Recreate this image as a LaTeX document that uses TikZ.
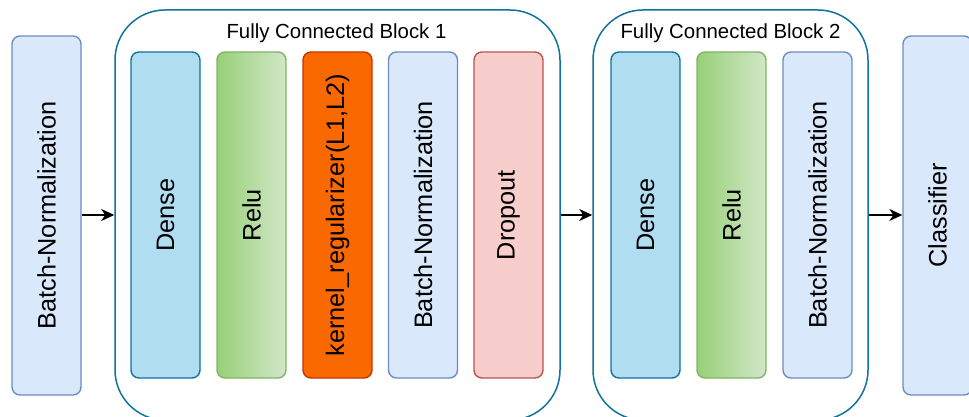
\documentclass[tikz,border=0pt]{standalone}
\usepackage{fontspec}
\setmainfont{Liberation Sans}
\usetikzlibrary{arrows.meta}
\definecolor{blkline}{HTML}{10739E}
\definecolor{densefill}{HTML}{B1DDF0}
\definecolor{denseline}{HTML}{10739E}
\definecolor{relufill}{HTML}{97D077}
\definecolor{relufill2}{HTML}{D2E7C9}
\definecolor{reluline}{HTML}{82B366}
\definecolor{kernfill}{HTML}{FA6800}
\definecolor{kernline}{HTML}{C73500}
\definecolor{bnfill}{HTML}{DAE8FC}
\definecolor{bnline}{HTML}{6C8EBF}
\definecolor{dropfill}{HTML}{F8CECC}
\definecolor{dropline}{HTML}{B85450}
\tikzset{
  layerbox/.style={draw, line width=1.4pt, rounded corners=8pt, minimum width=69pt, minimum height=326pt, inner sep=0pt, font=\fontsize{25.3}{30}\selectfont, text=black},
  outerbox/.style={layerbox, minimum height=359pt},
  blockbox/.style={draw=blkline, line width=1.5pt, rounded corners=50pt, fill=white, inner sep=0pt},
  blocktitle/.style={font=\fontsize{20.4}{24}\selectfont, text=black, inner sep=0pt},
  dense/.style={fill=densefill, draw=denseline},
  relu/.style={left color=relufill, right color=relufill2, draw=reluline},
  kern/.style={fill=kernfill, draw=kernline},
  bn/.style={fill=bnfill, draw=bnline},
  drop/.style={fill=dropfill, draw=dropline},
  flow/.style={line width=1.4pt, -{Stealth[length=13pt,width=12pt,inset=4pt]}}
}
\begin{document}
\begin{tikzpicture}[x=1pt,y=-1pt]
\useasboundingbox (0,0) rectangle (969,417);
\clip (0,0) rectangle (969,417);
% outer blocks
\node[blockbox, minimum width=445pt, minimum height=410pt] (blk1) at (337.5,215) {};
\node[blockbox, minimum width=275pt, minimum height=410pt] (blk2) at (730.5,215) {};
\node[blocktitle] (t1) at (336.5,33) {Fully Connected Block 1};
\node[blocktitle] (t2) at (730.5,33) {Fully Connected Block 2};
% standalone boxes
\node[outerbox, bn] (bn0) at (46.5,215.5) {\rotatebox{90}{Batch-Normalization}};
\node[outerbox, bn] (cls) at (937.5,215.5) {\rotatebox{90}{Classifier}};
% block 1
\node[layerbox, dense] (d1) at (165.5,215) {\rotatebox{90}{Dense}};
\node[layerbox, relu] (r1) at (251.5,215) {\rotatebox{90}{Relu}};
\node[layerbox, kern] (k1) at (337.5,215) {\rotatebox{90}{kernel\_regularizer(L1,L2)}};
\node[layerbox, bn] (b1) at (423,215) {\rotatebox{90}{Batch-Normalization}};
\node[layerbox, drop] (o1) at (508.5,215) {\rotatebox{90}{Dropout}};
% block 2
\node[layerbox, dense] (d2) at (645.5,215) {\rotatebox{90}{Dense}};
\node[layerbox, relu] (r2) at (731.5,215) {\rotatebox{90}{Relu}};
\node[layerbox, bn] (b2) at (817.5,215) {\rotatebox{90}{Batch-Normalization}};
% connectors
\draw[flow] (bn0.east |- 0,215) -- (blk1.west);
\draw[flow] (blk1.east) -- (blk2.west);
\draw[flow] (blk2.east) -- (cls.west |- 0,215);
\end{tikzpicture}
\end{document}
